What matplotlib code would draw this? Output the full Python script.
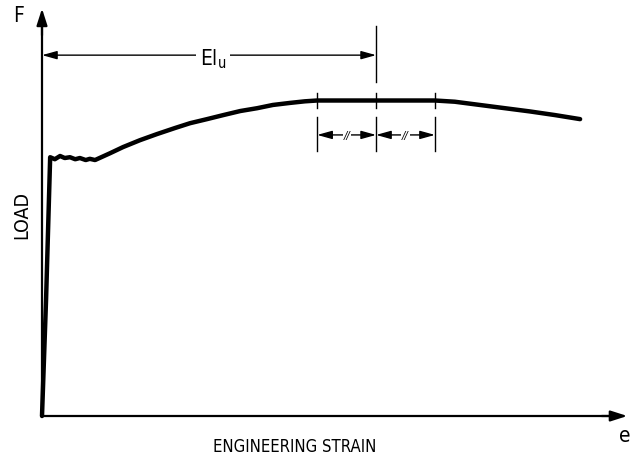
import numpy as np
import matplotlib
matplotlib.use("Agg")
import matplotlib.pyplot as plt

plt.rcParams['font.family'] = ['DejaVu Sans']
plt.rcParams['font.stretch'] = 'condensed'

# load-strain curve, both axes in % of axis length
strain = [0.0, 0.7, 1.4, 2.2, 3.1, 3.9, 4.8, 5.7, 6.5, 7.5, 8.2, 9.1,
          11.7, 13.9, 16.8, 19.7, 22.8, 25.4, 28.3, 31.1, 34.0, 36.9,
          39.6, 42.5, 45.1, 47.2, 57.3, 67.4, 70.8, 75.1, 79.4, 83.7,
          88.0, 92.3]
load = [0.0, 28.9, 63.9, 63.4, 64.2, 63.7, 63.9, 63.4, 63.7, 63.2, 63.5,
        63.2, 64.9, 66.4, 68.1, 69.6, 71.1, 72.3, 73.3, 74.3, 75.3, 76.0,
        76.8, 77.3, 77.7, 77.9, 77.9, 77.9, 77.6, 76.8, 76.0, 75.2,
        74.3, 73.3]

elu = 57.3        # uniform elongation (strain at max load)
half_band = 10.1  # half width of the flat maximum

fig = plt.figure(figsize=(6.39, 4.56), dpi=100)
ax = fig.add_axes([42 / 639, 39 / 456, 583 / 639, 405 / 456])
ax.set_xlim(0, 100)
ax.set_ylim(0, 100)
ax.axis('off')

# axes with arrow heads
ax.plot([0, 0], [0, 97], color='black', lw=1.6, clip_on=False, solid_capstyle='butt')
ax.plot([0, 97.5], [0, 0], color='black', lw=1.6, clip_on=False, solid_capstyle='butt')
ax.annotate('', xy=(0, 100.6), xytext=(0, 94),
            arrowprops=dict(arrowstyle='-|>,head_length=1.0,head_width=0.32',
                            color='black', lw=1.6, mutation_scale=10,
                            shrinkA=0, shrinkB=0),
            annotation_clip=False)
ax.annotate('', xy=(100.4, 0), xytext=(96, 0),
            arrowprops=dict(arrowstyle='-|>,head_length=1.0,head_width=0.32',
                            color='black', lw=1.6, mutation_scale=10,
                            shrinkA=0, shrinkB=0),
            annotation_clip=False)

ax.plot(strain, load, color='black', lw=3.2, clip_on=False,
        solid_joinstyle='round', solid_capstyle='round')

# El_u dimension
y_top = 89.1
ax.plot([elu, elu], [82.5, 96.3], color='black', lw=1.0)
ax.annotate('', xy=(0, y_top), xytext=(elu, y_top),
            arrowprops=dict(arrowstyle='<|-|>,head_length=0.9,head_width=0.25',
                            color='black', lw=1.0, mutation_scale=10,
                            shrinkA=0, shrinkB=0))
ax.text(elu / 2 + 0.7, y_top - 0.8, r'El$_\mathregular{u}$', ha='center', va='center',
        fontsize=15, bbox=dict(facecolor='white', edgecolor='none', pad=3))

# ticks on the flat maximum and the two equal intervals
umax = max(load)
y_dim = 69.4
for xs in [elu - half_band, elu, elu + half_band]:
    ax.plot([xs, xs], [umax - 1.8, umax + 1.8], color='black', lw=1.0)
    ax.plot([xs, xs], [65.4, 73.8], color='black', lw=1.0)
for a, b in [(elu - half_band, elu), (elu, elu + half_band)]:
    ax.annotate('', xy=(a, y_dim), xytext=(b, y_dim),
                arrowprops=dict(arrowstyle='<|-|>,head_length=0.9,head_width=0.25',
                                color='black', lw=1.0, mutation_scale=10,
                                shrinkA=0, shrinkB=0))
    ax.text((a + b) / 2, y_dim, '//', ha='center', va='center', fontsize=8,
            fontstyle='italic',
            bbox=dict(facecolor='white', edgecolor='none', pad=0.5))

# labels
ax.text(-4.0, 99.0, 'F', ha='center', va='center', fontsize=15, clip_on=False)
ax.text(-3.4, 49.9, 'LOAD', ha='center', va='center', fontsize=14,
        rotation=90, clip_on=False)
ax.text(43.4, -7.3, 'ENGINEERING STRAIN', ha='center', va='center',
        fontsize=12, clip_on=False)
ax.text(100.0, -4.8, 'e', ha='center', va='center', fontsize=15, clip_on=False)

fig.savefig('out.png', dpi=100)
